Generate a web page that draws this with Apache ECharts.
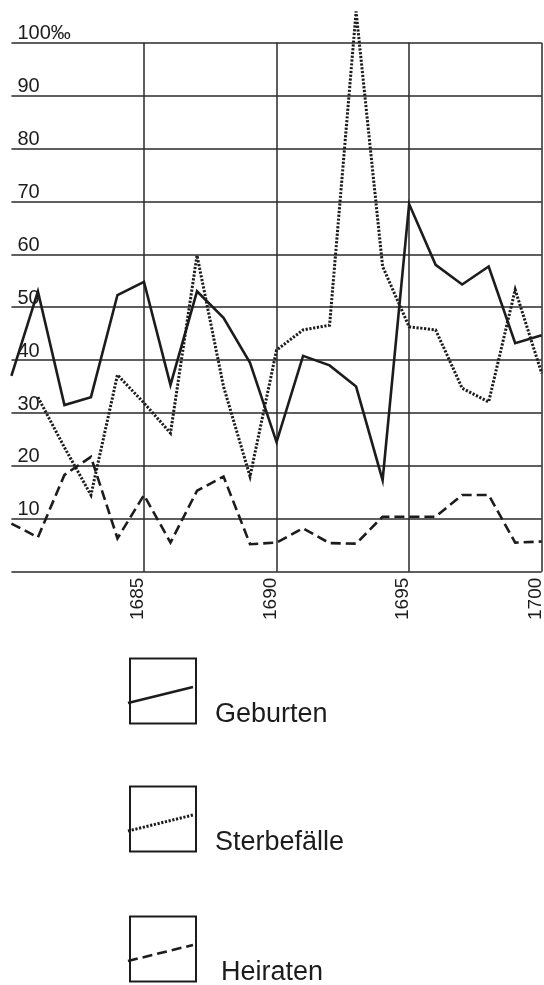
<!DOCTYPE html>
<html><head><meta charset="utf-8">
<script src="https://cdn.jsdelivr.net/npm/echarts@6/dist/echarts.min.js"></script>
<style>html,body{margin:0;padding:0;background:#fff;overflow:hidden}#c{width:544px;height:985px}</style>
</head><body><div id="c"></div>
<script>
const years = [1680,1681,1682,1683,1684,1685,1686,1687,1688,1689,1690,1691,1692,1693,1694,1695,1696,1697,1698,1699,1700];
const geburten = [37,53,31.5,33,52.3,54.8,35.3,53,48,39.5,24.5,40.8,39,35,17.3,69.5,58,54.3,57.7,43.2,44.7];
const sterbefaelle = [null,33,23.5,14.5,37.2,31.9,26.2,59.8,35,18,41.9,45.7,46.6,105.9,57.7,46.3,45.7,34.7,32.1,53.3,37.5];
const heiraten = [9.1,6.5,18.3,21.7,6.3,14.5,5.5,15.3,18,5.2,5.5,8.2,5.4,5.3,10.4,10.4,10.4,14.5,14.5,5.5,5.7];
const seriesNames = ['Geburten','Sterbefälle','Heiraten'];
const yUnit = '‰';

const ink = '#1c1c1c';
const styles = [
  {type:'solid', width:2.6, dash:null},
  {type:[2.2,1.6], width:3, dash:[2.2,1.6]},
  {type:[10,5], width:2.6, dash:[10,5]}
];
const dataSets = [geburten, sterbefaelle, heiraten];
const pairs = d => years.map((y,i) => d[i] == null ? null : [y, d[i]]).filter(p => p);

const chart = echarts.init(document.getElementById('c'), null, {renderer:'canvas'});

const legendTops = [656, 784, 914];
const graphics = [];
seriesNames.forEach((n, i) => {
  const t = legendTops[i];
  graphics.push({type:'rect', left:127.5, top:t, shape:{width:66, height:65},
    style:{fill:'none', stroke:ink, lineWidth:2}});
  graphics.push({type:'line', shape:{x1:128, y1:t+47, x2:193, y2:t+31},
    style:{stroke:ink, lineWidth:styles[i].width, lineDash:styles[i].dash}});
  graphics.push({type:'text', left: i===2 ? 221 : 215, top: t+45,
    style:{text:n, fill:ink, font:'27px "Liberation Sans", Arial, sans-serif'}});
});

chart.setOption({
  animation:false,
  backgroundColor:'#fff',
  grid:{left:11.4, right:2.3, top:42.7, bottom:413.3, containLabel:false, outerBoundsMode:'none'},
  xAxis:{type:'value', min:1680, max:1700, interval:5,
    axisLine:{show:false}, axisTick:{show:false},
    splitLine:{show:true, showMinLine:false, lineStyle:{color:'#2a2a2a', width:1.5}},
    axisLabel:{rotate:90, showMinLabel:false, margin:6, color:ink, fontSize:19,
      fontFamily:'"Liberation Sans", Arial, sans-serif',
      verticalAlign:'bottom', lineHeight:12,
      formatter: v => String(v)}},
  yAxis:{type:'value', min:0, max:100, interval:10,
    axisLine:{show:false}, axisTick:{show:false},
    splitLine:{show:true, lineStyle:{color:'#2a2a2a', width:1.5}},
    axisLabel:{inside:true, margin:6, color:ink, fontSize:20, verticalAlign:'bottom',
      lineHeight:18, fontFamily:'"Liberation Sans", Arial, sans-serif',
      formatter: v => v === 0 ? '' : (v === 100 ? v + yUnit : String(v))}},
  series: dataSets.map((d,i) => ({
    name:seriesNames[i], type:'line', data:pairs(d), showSymbol:false, symbol:'none',
    clip:false, z:3,
    lineStyle:{color:ink, width:styles[i].width, type:styles[i].type, join:'miter'}
  })),
  graphic: graphics
});
</script></body></html>
